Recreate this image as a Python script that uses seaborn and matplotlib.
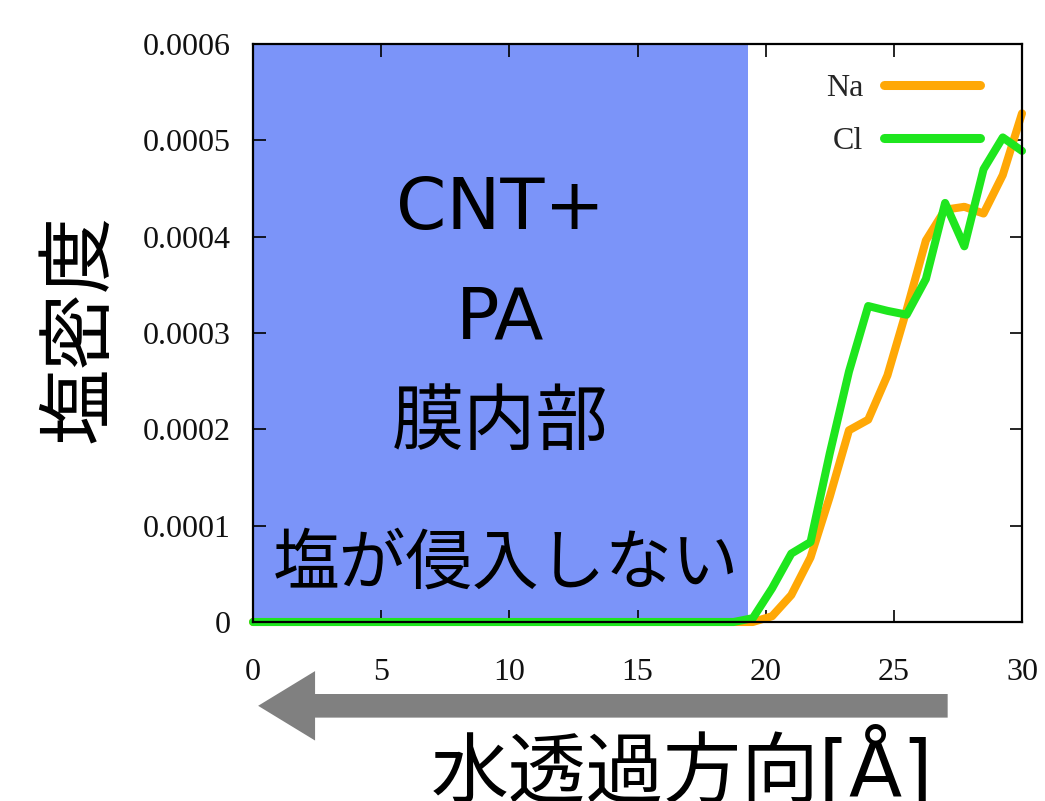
import numpy as np
import pandas as pd
import matplotlib
matplotlib.use("Agg")
import matplotlib.pyplot as plt
import seaborn as sns

# ---- data ----
position = [0.0, 0.75, 1.5, 2.25, 3.0, 3.75, 4.5, 5.25, 6.0, 6.75,
            7.5, 8.25, 9.0, 9.75, 10.5, 11.25, 12.0, 12.75, 13.5, 14.25,
            15.0, 15.75, 16.5, 17.25, 18.0, 18.75, 19.5, 20.25, 21.0, 21.75,
            22.5, 23.25, 24.0, 24.75, 25.5, 26.25, 27.0, 27.75, 28.5, 29.25, 30.0]
na_density = [0.0, 0.0, 0.0, 0.0, 0.0, 0.0, 0.0, 0.0, 0.0, 0.0,
              0.0, 0.0, 0.0, 0.0, 0.0, 0.0, 0.0, 0.0, 0.0, 0.0,
              0.0, 0.0, 0.0, 0.0, 0.0, 0.0, 0.0, 0.000006, 0.000028, 0.000067,
              0.00013, 0.000199, 0.00021, 0.000256, 0.000324, 0.000396, 0.000428,
              0.000431, 0.000424, 0.000464, 0.000528]
cl_density = [0.0, 0.0, 0.0, 0.0, 0.0, 0.0, 0.0, 0.0, 0.0, 0.0,
              0.0, 0.0, 0.0, 0.0, 0.0, 0.0, 0.0, 0.0, 0.0, 0.0,
              0.0, 0.0, 0.0, 0.0, 0.0, 0.0, 0.000004, 0.000035, 0.000071, 0.000083,
              0.000175, 0.00026, 0.000328, 0.000323, 0.000319, 0.000356, 0.000435,
              0.00039, 0.00047, 0.000503, 0.000489]
series_names = ["Na", "Cl"]
series_colors = ["#ffa806", "#1ee61e"]
membrane_region = [0.0, 19.3]
x_ticks = [0, 5, 10, 15, 20, 25, 30]
y_ticks = [0, 0.0001, 0.0002, 0.0003, 0.0004, 0.0005, 0.0006]
y_tick_labels = ["0", "0.0001", "0.0002", "0.0003", "0.0004", "0.0005", "0.0006"]
membrane_text = ["CNT+", "PA", "膜内部", "塩が侵入しない"]
ylabel_text = "塩密度"
xlabel_text = "水透過方向[Å]"

df = pd.DataFrame({
    "x": position * 2,
    "density": na_density + cl_density,
    "ion": [series_names[0]] * len(position) + [series_names[1]] * len(position),
})

sns.set_theme(style="white")
plt.rcParams["font.family"] = ["DejaVu Sans", "Noto Sans CJK JP"]

fig = plt.figure(figsize=(10.45, 8.01), dpi=100)
ax = fig.add_axes([253 / 1045, 1 - 622 / 801, (1022 - 253) / 1045, (622 - 44) / 801])

ax.axvspan(membrane_region[0], membrane_region[1], color="#7b94f9", zorder=0.5, lw=0)

sns.lineplot(data=df, x="x", y="density", hue="ion", palette=series_colors,
             hue_order=series_names, linewidth=5.8, ax=ax, legend=True,
             clip_on=False, zorder=3)

ax.set_xlim(0, 30)
ax.set_ylim(0, 0.0006)
ax.set_xticks(x_ticks)
ax.set_xticklabels([str(t) for t in x_ticks])
ax.set_yticks(y_ticks)
ax.set_yticklabels(y_tick_labels)
ax.tick_params(axis="both", direction="in", length=9, width=1.2, color="black",
               top=True, right=True, bottom=True, left=True,
               labelsize=23, labelfontfamily="Liberation Serif", labelcolor="#111111")
ax.tick_params(axis="x", pad=26)
ax.tick_params(axis="y", pad=16)
ax.set_xlabel("")
ax.set_ylabel("")
for sp in ax.spines.values():
    sp.set_color("black")
    sp.set_linewidth(1.6)
    sp.set_zorder(4)

leg = ax.legend(frameon=False, markerfirst=False, loc="upper right",
                bbox_to_anchor=(0.945, 0.948), borderaxespad=0, borderpad=0,
                handlelength=3.0, handletextpad=0.65, labelspacing=0.72,
                prop={"family": "Liberation Serif", "size": 23})
for line in leg.get_lines():
    line.set_linewidth(6.5)

# texts inside membrane region
text_pos_y = [0.713, 0.524, 0.341, 0.100]
text_sizes = [52, 52, 52, 48]
text_x = [9.64, 9.64, 9.64, 9.87]
for t, yy, sz, xx in zip(membrane_text, text_pos_y, text_sizes, text_x):
    ax.text(xx, yy, t, transform=ax.get_xaxis_transform(), ha="center",
            va="center", fontsize=sz, color="black", zorder=5)

# y label
fig.text(80 / 1045, 1 - 328 / 801, ylabel_text, rotation=90, ha="center",
         va="center", fontsize=55, color="black")

# arrow below x axis (water permeation direction)
ax.annotate("", xy=(0.2, -0.145), xycoords=("data", "axes fraction"),
            xytext=(27.1, -0.145), textcoords=("data", "axes fraction"),
            arrowprops=dict(arrowstyle="simple,head_length=41,head_width=50,tail_width=17",
                            mutation_scale=1, color="#808080", lw=0,
                            shrinkA=0, shrinkB=0),
            annotation_clip=False)

# x label
fig.text(682 / 1045, 1 - 770 / 801, xlabel_text, ha="center", va="center",
         fontsize=56, color="black")

fig.savefig("out.png", dpi=100)
